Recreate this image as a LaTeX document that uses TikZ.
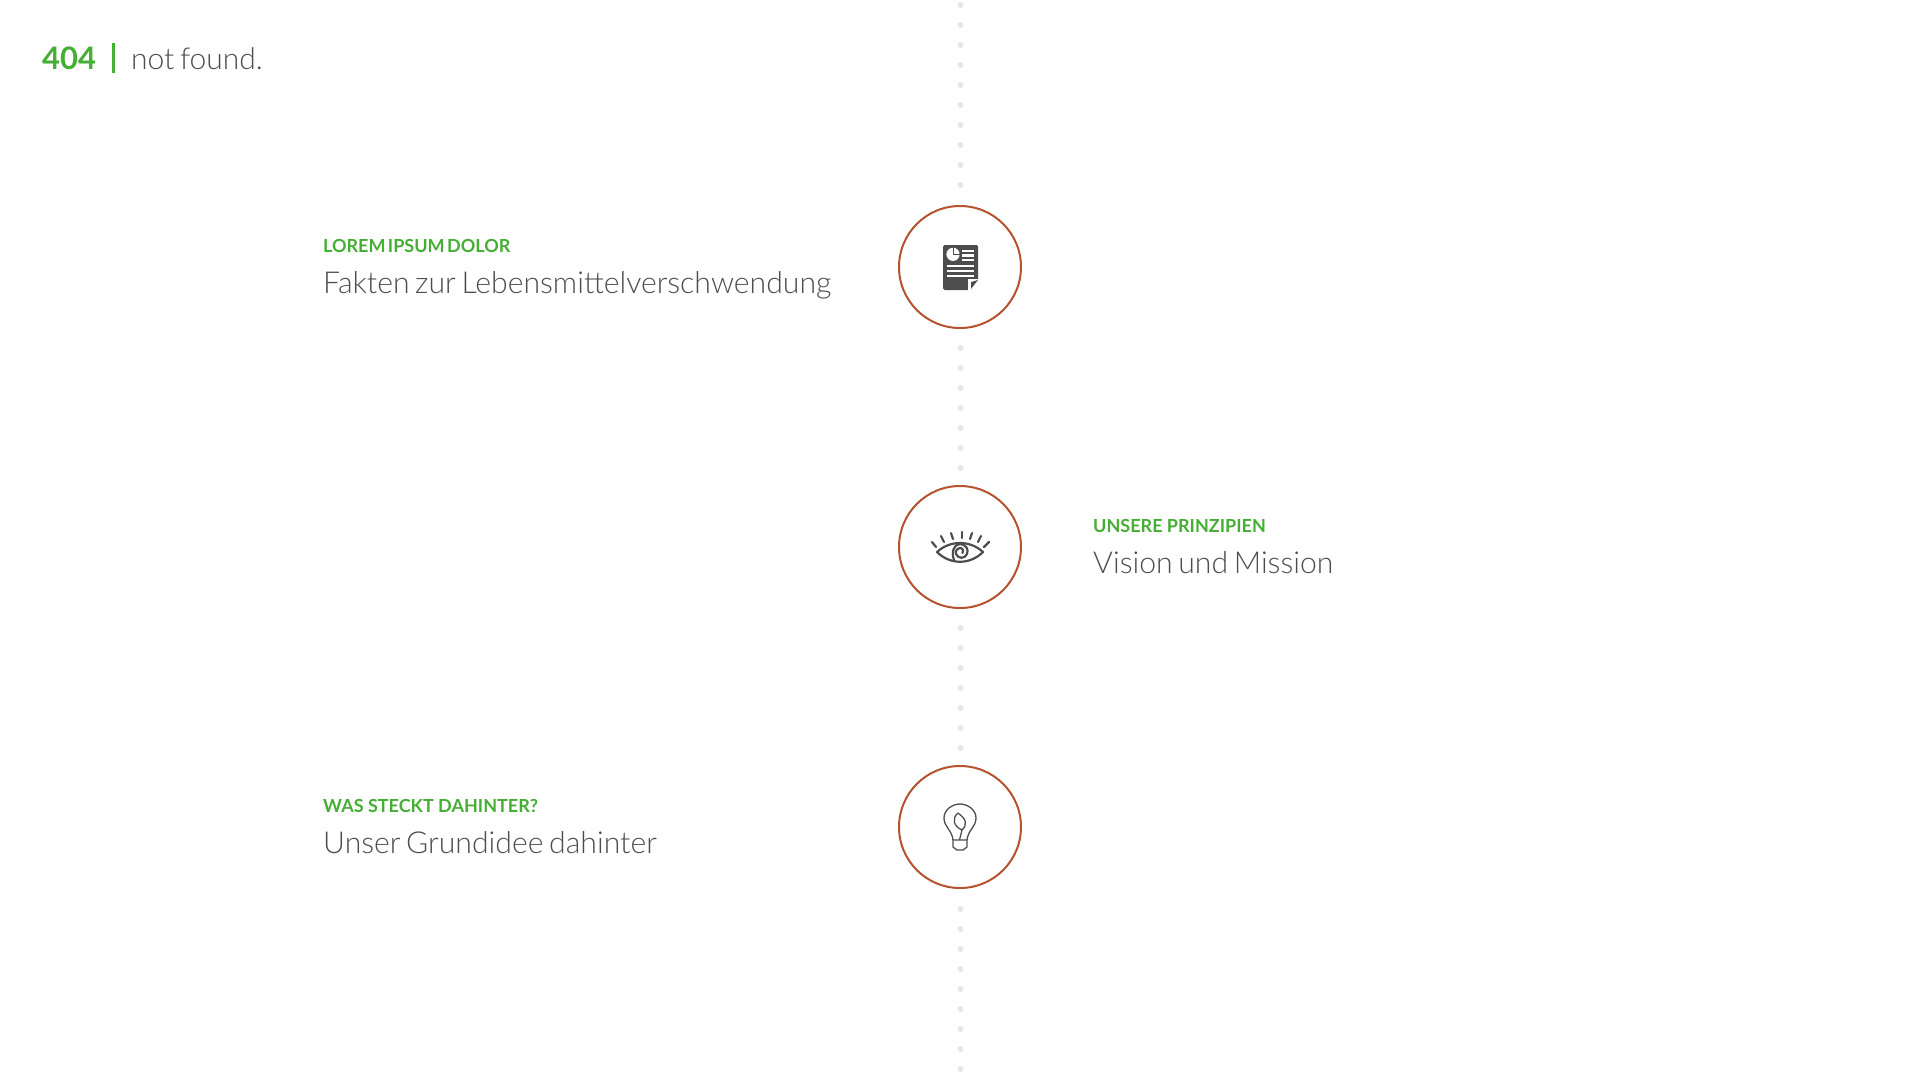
\documentclass[tikz,border=0pt]{standalone}
\usepackage{fontspec}
\setmainfont{Lato}
\newfontfamily\latolight[WordSpace=0.68]{Lato Light}
\usepackage{tikz}
\definecolor{leafgreen}{HTML}{45AE34}
\definecolor{rust}{HTML}{B5532F}
\definecolor{darkgrey}{HTML}{4D4D4D}
\definecolor{dotgrey}{HTML}{E6E6E6}
\tikzset{
  every picture/.style={x=1pt,y=-1pt},
  station/.style={circle,draw=rust,line width=2pt,minimum size=122pt,inner sep=0pt},
  dotline/.style={dotgrey,line width=6pt,line cap=round,dash pattern=on 0pt off 20pt},
  heading/.style={anchor=base west,inner sep=0pt,text=leafgreen,font=\fontsize{18}{18}\selectfont\bfseries},
  subline/.style={anchor=base west,inner sep=0pt,text=darkgrey,font=\fontsize{30.2}{30}\latolight},
  iconline/.style={darkgrey,line width=2.2pt,line cap=round,line join=round},
  bulbline/.style={darkgrey,line width=1.3pt,line join=round}
}

\begin{document}
\begin{tikzpicture}
    \useasboundingbox (0,0) rectangle (1920,1080);
    % header
    \node[anchor=base west,inner sep=0pt,text=leafgreen,font=\fontsize{31}{31}\selectfont\bfseries] (code) at (42,69) {404};
    \node[anchor=base west,inner sep=0pt,text=darkgrey,font=\fontsize{30}{30}\latolight] (msg) at (131,69) {not found.};
    \draw[leafgreen,line width=3pt] (113.5,43) -- (113.5,73);
    % stations
    \node[station] (facts) at (960,267) {};
    \node[station] (vision) at (960,547) {};
    \node[station] (idea) at (960,827) {};
    % dotted line
    \coordinate (topstart) at (960.5,5);
    \coordinate (topend) at (960.5,186);
    \coordinate (upperstart) at (960.5,348);
    \coordinate (upperend) at (960.5,469);
    \coordinate (lowerstart) at (960.5,628);
    \coordinate (lowerend) at (960.5,749);
    \coordinate (bottomstart) at (960.5,909);
    \coordinate (bottomend) at (960.5,1070);
    \draw[dotline] (topstart) -- (topend);
    \draw[dotline] (upperstart) -- (upperend);
    \draw[dotline] (lowerstart) -- (lowerend);
    \draw[dotline] (bottomstart) -- (bottomend);
    % labels
    \node[heading] (factshead) at (323,252) {\spaceskip=2.4pt LOREM IPSUM DOLOR};
    \node[subline] (factstext) at (323,293) {Fakten zur Lebensmittelverschwendung};
    \node[heading] (visionhead) at (1093,532) {UNSERE PRINZIPIEN};
    \node[subline] (visiontext) at (1093,573) {Vision und Mission};
    \node[heading] (ideahead) at (323,812) {WAS STECKT DAHINTER?};
    \node[subline] (ideatext) at (323,853) {Unser Grundidee dahinter};
    % document icon
    \fill[darkgrey,rounded corners=1.5pt] (943,245) rectangle (978,290);
    \fill[white] (953,254.3) circle (6.6);
    \draw[darkgrey,line width=1pt] (953,254.3) -- (953,247) (953,254.3) -- (960,254.3);
    \foreach \y in {251,255.5,260}
      \draw[white,line width=2.3pt] (962,\y) -- (974,\y);
    \foreach \y in {266,271,276}
      \draw[white,line width=2.3pt] (947,\y) -- (974,\y);
    \fill[white] (968,279) -- (979,279) -- (979,291) -- (968,291) -- cycle;
    \fill[darkgrey] (971,289) -- (971,282) -- (978,280) -- cycle;
    % eye icon
    \draw[iconline] (937,552) .. controls (950,540) and (970,540) .. (983,552) .. controls (970,565) and (950,565) .. (937,552) -- cycle;
    \draw[iconline] (954,560) .. controls (951,552) and (954,544) .. (960,544) .. controls (966,544) and (969,550) .. (967,554) .. controls (965,559) and (958,559) .. (956,554) .. controls (955,550) and (958,548) .. (961,548) .. controls (963,548) and (964,551) .. (962.5,553);
    \foreach \a/\b/\c/\d in {932/542/936/547,941/536/944/542,951/533/953/539,962/532/962/538,972/533/970/539,981/536/978/542,989/542/984/547}
      \draw[iconline] (\a,\b) -- (\c,\d);
    % bulb icon
    \draw[bulbline] (953,840) .. controls (952,830) and (944,827) .. (944,818) .. controls (944,810) and (952,804) .. (960,804) .. controls (968,804) and (976,810) .. (976,818) .. controls (976,827) and (968,830) .. (967,840);
    \draw[bulbline] (953,840) -- (967,840) -- (967,847) -- (963,850) -- (957,850) -- (953,847) -- cycle;
    \draw[bulbline] (958,813) .. controls (952,818) and (953,826) .. (962,830) .. controls (968,824) and (966,819) .. (958,813) -- cycle (962,830) -- (959.5,840);
\end{tikzpicture}
\end{document}
